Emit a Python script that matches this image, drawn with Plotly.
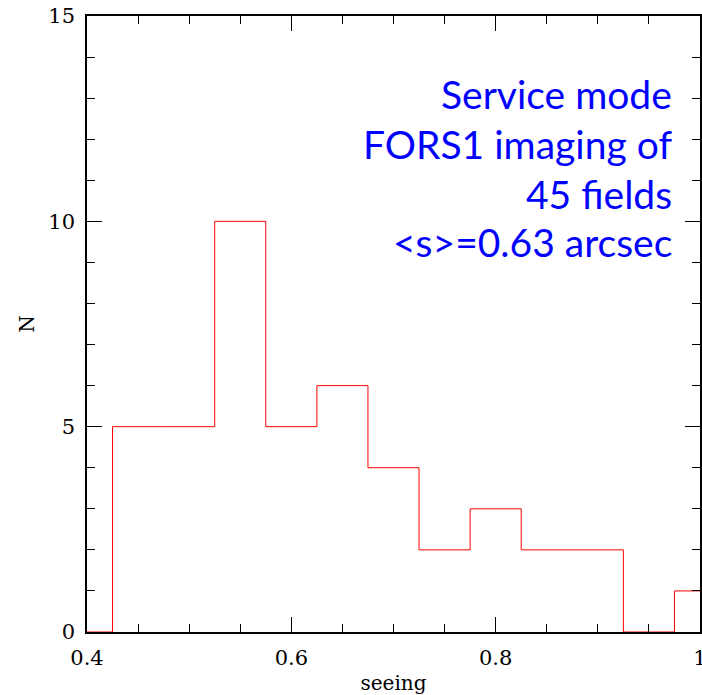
import plotly.graph_objects as go

# bin edges (seeing, arcsec) and counts N
bin_edges = [0.375, 0.425, 0.475, 0.525, 0.575, 0.625, 0.675, 0.725, 0.775, 0.825, 0.875, 0.925, 0.975, 1.025]
counts = [0, 5, 5, 10, 5, 6, 4, 2, 3, 2, 2, 0, 1]

x_tickvals = [0.4, 0.6, 0.8, 1.0]
x_ticktext = ["0.4", "0.6", "0.8", "1"]
y_tickvals = [0, 5, 10, 15]

text_lines = ["Service mode", "FORS1 imaging of", "45 fields", "<s>=0.63 arcsec"]
text_y_px = [94, 144, 194, 242]

W, H = 702, 695
L, R, T, B = 87, 2, 16, 63
pw = W - L - R
ph = H - T - B

fig = go.Figure()
fig.add_trace(go.Scatter(
    x=bin_edges, y=counts + [counts[-1]],
    mode="lines", line=dict(color="#ff0000", width=1, shape="hv"),
    showlegend=False, hoverinfo="skip", cliponaxis=True,
))

serif = "DejaVu Serif"
for t, yp in zip(text_lines, text_y_px):
    fig.add_annotation(
        xref="paper", yref="paper",
        x=(674 - L) / pw, y=(H - B - yp) / ph,
        xanchor="right", yanchor="middle",
        text=t.replace("<", "&lt;").replace(">", "&gt;"),
        showarrow=False,
        font=dict(family="Lato", size=39, color="#0000ff"),
    )

axis_common = dict(
    showline=True, linecolor="black", linewidth=1.5, mirror="ticks",
    ticks="inside", ticklen=15, tickwidth=1, tickcolor="black",
    showgrid=False, zeroline=False, automargin=False,
    tickfont=dict(family=serif, size=21, color="black"),
    ticklabeloverflow="allow",
)
fig.update_xaxes(
    range=[0.4, 1.0], tickmode="array", tickvals=x_tickvals,
    ticktext=x_ticktext, ticklabelstandoff=6,
    minor=dict(dtick=0.05, tick0=0.4, ticks="inside", ticklen=8, tickwidth=1, tickcolor="black"),
    title=dict(text="seeing", font=dict(family=serif, size=20, color="black"), standoff=12),
    **axis_common,
)
fig.update_yaxes(
    range=[0, 15], tickmode="array", tickvals=y_tickvals, ticklabelstandoff=6,
    minor=dict(dtick=1, tick0=0, ticks="inside", ticklen=8, tickwidth=1, tickcolor="black"),
    title=dict(text="N", font=dict(family=serif, size=20, color="black"), standoff=8),
    **axis_common,
)
fig.update_layout(
    width=W, height=H,
    margin=dict(l=L, r=R, t=T, b=B),
    paper_bgcolor="white", plot_bgcolor="white",
)
fig.write_html(
    "out.html",
    config={"displayModeBar": False},
    post_script="document.body.style.margin='0';document.body.style.overflow='hidden';",
)
